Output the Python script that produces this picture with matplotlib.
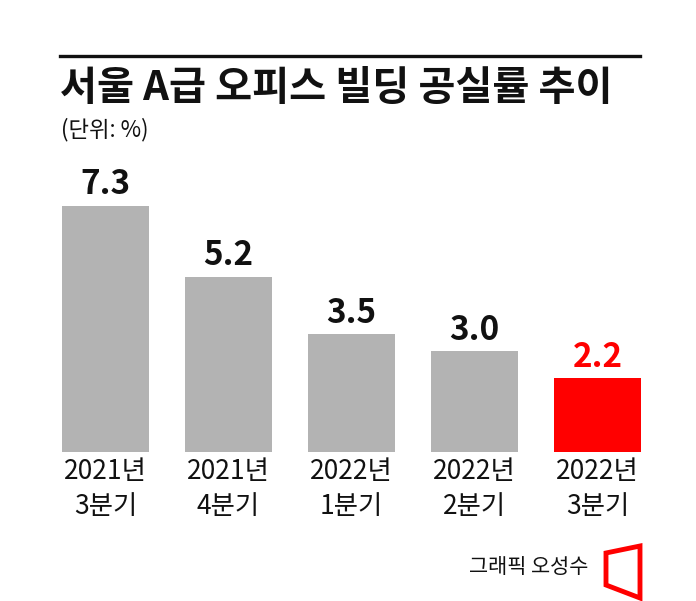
import matplotlib
matplotlib.use("Agg")
import matplotlib.pyplot as plt
from matplotlib.patches import Polygon
from matplotlib.lines import Line2D

plt.rcParams['font.family'] = ['Noto Sans CJK KR', 'DejaVu Sans']

categories = ["2021년\n3분기", "2021년\n4분기", "2022년\n1분기", "2022년\n2분기", "2022년\n3분기"]
values = [7.3, 5.2, 3.5, 3.0, 2.2]
value_labels = ["7.3", "5.2", "3.5", "3.0", "2.2"]
colors = ["#b3b3b3", "#b3b3b3", "#b3b3b3", "#b3b3b3", "#ff0000"]
label_colors = ["#111111", "#111111", "#111111", "#111111", "#ff0000"]

W, H = 696, 601
fig = plt.figure(figsize=(W / 100, H / 100), dpi=100)
fig.patch.set_facecolor("white")

def fx(px):
    return px / W

def fy(py):
    return 1 - py / H

# axes: xlim [-0.5, 4.5] maps to px 44..659 ; ylim [0, 8] maps to px 452..182
ax = fig.add_axes([fx(44), fy(452), fx(659) - fx(44), (452 - 182) / H])
x = list(range(len(values)))
ax.bar(x, values, width=0.71, color=colors)
ax.set_xlim(-0.5, 4.5)
ax.set_ylim(0, 8)
for s in ax.spines.values():
    s.set_visible(False)
ax.set_yticks([])
ax.set_xticks(x)
ax.set_xticklabels(categories, fontsize=19, color="#111111", linespacing=1.4)
ax.tick_params(axis="x", length=0, pad=4)

for xi, v, lab, c in zip(x, values, value_labels, label_colors):
    ax.annotate(lab, (xi, v), xytext=(0, 3), textcoords="offset points",
                ha="center", va="bottom", fontsize=24, fontweight="bold", color=c)

# top rule
fig.add_artist(Line2D([fx(60), fx(640)], [fy(56), fy(56)], color="#111111", lw=2.4))

# title
fig.text(fx(60), fy(88), "서울 A급 오피스 빌딩 공실률 추이", fontsize=29, fontweight="black",
         color="#111111", ha="left", va="center")
fig.text(fx(61), fy(130), "(단위: %)", fontsize=16, color="#111111", ha="left", va="center")

# credit
fig.text(fx(588), fy(567), "그래픽 오성수", fontsize=15, color="#111111", ha="right", va="center")

# logo
logo = Polygon([(fx(606), fy(553)), (fx(640), fy(546)), (fx(640), fy(598)), (fx(606), fy(585))],
               closed=True, fill=False, edgecolor="#ff0000", lw=3.5, joinstyle="miter",
               transform=fig.transFigure)
fig.add_artist(logo)

fig.savefig("out.png", dpi=100, facecolor="white")
